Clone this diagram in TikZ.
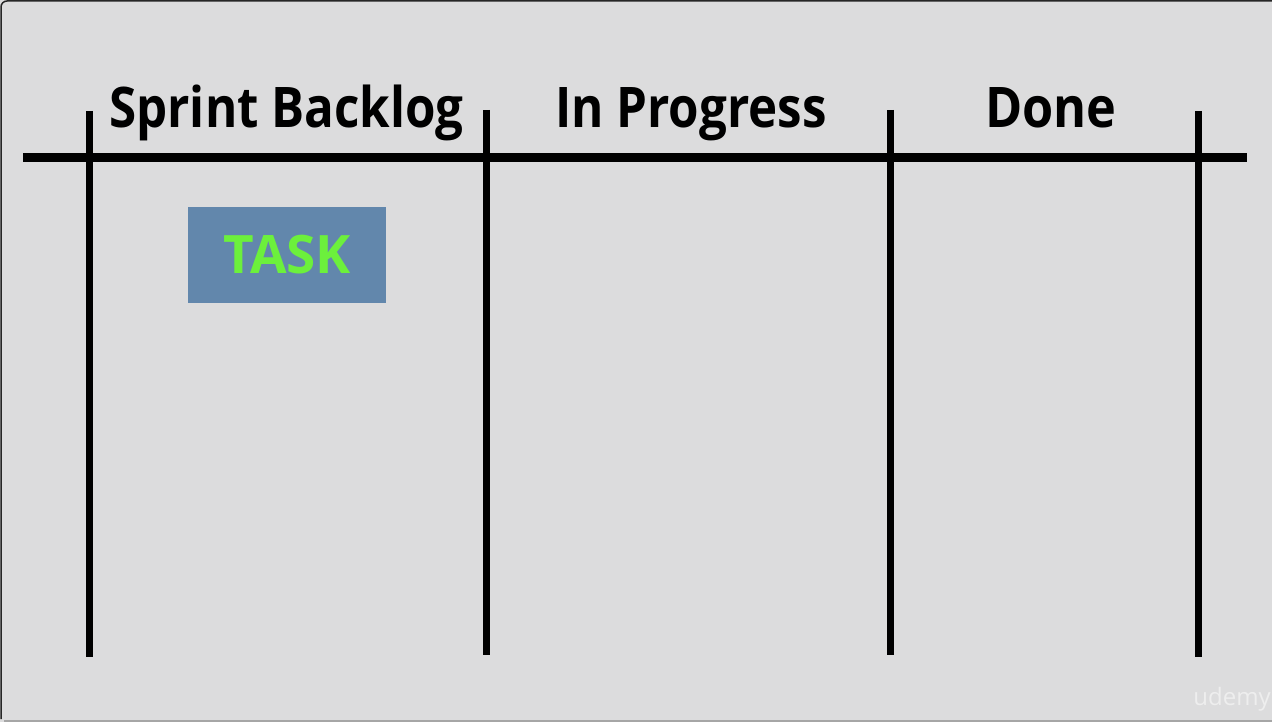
\documentclass[tikz,border=0pt]{standalone}
\usepackage{fontspec}
\setmainfont{Open Sans}
\definecolor{bgc}{HTML}{DCDCDD}
\definecolor{taskblue}{RGB}{98,135,172}
\definecolor{taskgreen}{RGB}{108,240,60}
\definecolor{wmark}{HTML}{EEEEEE}
\tikzset{
  rule/.style={line width=7pt, black},
  hrule/.style={line width=9pt, black},
  header/.style={anchor=base, inner sep=0pt, font=\fontsize{56}{60}\selectfont\bfseries},
  taskcard/.style={fill=taskblue, draw=none, minimum width=198pt, minimum height=96pt, inner sep=0pt,
     font=\fontsize{53}{56}\selectfont\bfseries, text=taskgreen}
}
\begin{document}
\begin{tikzpicture}[x=1pt,y=-1pt]
\useasboundingbox (0,0) rectangle (1272,722);
\fill[bgc] (0,0) rectangle (1272,722);
% frame
\draw[line width=1.5pt, black!85, rounded corners=6pt] (1272,1) -- (1,1) -- (1,719);
\draw[line width=2pt, gray!70] (4,721) -- (1272,721);
% rules
\draw[hrule] (23,157.5) coordinate (hl) -- (1247,157.5) coordinate (hr);
\coordinate (v1t) at (89.5,111); \coordinate (v1b) at (89.5,657);
\coordinate (v2t) at (486,110); \coordinate (v2b) at (486,655);
\coordinate (v3t) at (890,110); \coordinate (v3b) at (890,655);
\coordinate (v4t) at (1198,111); \coordinate (v4b) at (1198,657);
\draw[rule] (v1t) -- (v1b);
\draw[rule] (v2t) -- (v2b);
\draw[rule] (v3t) -- (v3b);
\draw[rule] (v4t) -- (v4b);
% headers
\node[header] (h1) at (286.5,128) {\scalebox{0.88}[1]{Sprint Backlog}};
\node[header] (h2) at (691,128) {\scalebox{0.88}[1]{In Progress}};
\node[header] (h3) at (1051,128) {\scalebox{0.9}[1]{Done}};
% task
\node[taskcard] (task) at (287,255) {TASK};
% watermark
\node[anchor=base, inner sep=0pt, text=wmark, font=\fontsize{24}{26}\selectfont] (wm) at (1232,705) {udemy};
\end{tikzpicture}
\end{document}
